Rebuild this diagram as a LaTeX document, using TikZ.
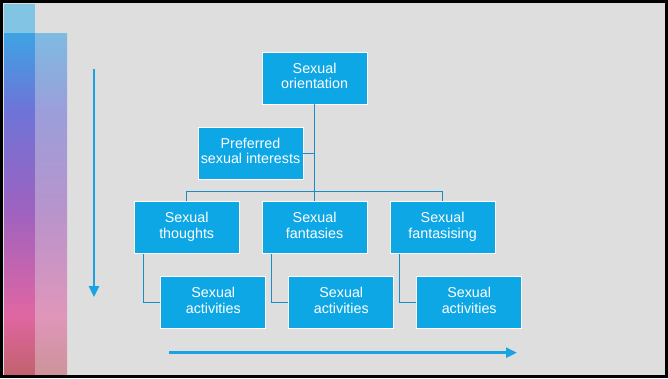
\documentclass[tikz,border=0pt]{standalone}
\usepackage{fontspec}
\newfontfamily\boxfont{Liberation Sans}
\usetikzlibrary{arrows.meta}
\definecolor{bg}{HTML}{DEDEDE}
\definecolor{boxblue}{HTML}{0EA7E6}
\definecolor{arrowblue}{HTML}{1AA3E3}
\definecolor{linkblue}{HTML}{1D8BC5}
\definecolor{gA}{HTML}{3DA3E3}
\definecolor{gB}{HTML}{6E74D8}
\definecolor{gC}{HTML}{9E62C0}
\definecolor{gD}{HTML}{E066A2}
\definecolor{gE}{HTML}{C2626E}
\definecolor{gTop}{HTML}{82C4E4}
\tikzset{
  box/.style={draw=white, line width=0.8pt, fill=boxblue, text=white,
    minimum width=105pt, minimum height=52pt, inner sep=0pt, align=center,
    font=\boxfont\fontsize{14.3}{15.5}\selectfont,
    execute at begin node=\strut, execute at end node=\strut},
  link/.style={draw=linkblue, line width=1pt},
  bigarrow/.style={draw=arrowblue, line width=2.5pt,
    -{Triangle[length=11pt,width=10pt]}}
}
\begin{document}
\begin{tikzpicture}[x=1pt,y=-1pt]
\useasboundingbox (0,0) rectangle (668,378);
\fill[bg] (0,0) rectangle (668,378);
% left gradient strips
\fill[gTop] (4,4) rectangle (35,33);
\shade[top color=gA, bottom color=gB] (4,33) rectangle (35,110.5);
\shade[top color=gB, bottom color=gC] (4,110) rectangle (35,210.5);
\shade[top color=gC, bottom color=gD] (4,210) rectangle (35,315.5);
\shade[top color=gD, bottom color=gE] (4,315) rectangle (35,374);
\shade[top color=gA!60!bg, bottom color=gB!60!bg] (35,33) rectangle (67,110.5);
\shade[top color=gB!60!bg, bottom color=gC!60!bg] (35,110) rectangle (67,210.5);
\shade[top color=gC!60!bg, bottom color=gD!60!bg] (35,210) rectangle (67,315.5);
\shade[top color=gD!60!bg, bottom color=gE!60!bg] (35,315) rectangle (67,374);
% frame
\draw[black, line width=3pt] (1.5,1.5) rectangle (666.5,376.5);
% nodes
\node[box] (o) at (314.6,78) {Sexual\\orientation};
\node[box] (p) at (250.5,153) {Preferred\\sexual interests};
\node[box] (t) at (186.7,227.8) {Sexual\\thoughts};
\node[box] (f) at (314.6,227.8) {Sexual\\fantasies};
\node[box] (g) at (442.6,227.8) {Sexual\\fantasising};
\node[box] (a1) at (213.3,302.8) {Sexual\\activities};
\node[box] (a2) at (341.3,302.8) {Sexual\\activities};
\node[box] (a3) at (469.2,302.8) {Sexual\\activities};
\coordinate (bar) at (0,191);
% connectors
\draw[link] (o.south) -- (f.north);
\draw[link] (p.east) -- (p.east -| o.south);
\draw[link] (t.north) -- (t.north |- bar) -- (g.north |- bar) -- (g.north);
\draw[link] ([xshift=10pt]t.south west) |- (a1.west);
\draw[link] ([xshift=10pt]f.south west) |- (a2.west);
\draw[link] ([xshift=10pt]g.south west) |- (a3.west);
% big arrows
\coordinate (v1) at (94,69);
\coordinate (v2) at (94,297);
\coordinate (h1) at (169,352.7);
\coordinate (h2) at (517,352.7);
\draw[bigarrow] (v1) -- (v2);
\draw[bigarrow] (h1) -- (h2);
\end{tikzpicture}
\end{document}
